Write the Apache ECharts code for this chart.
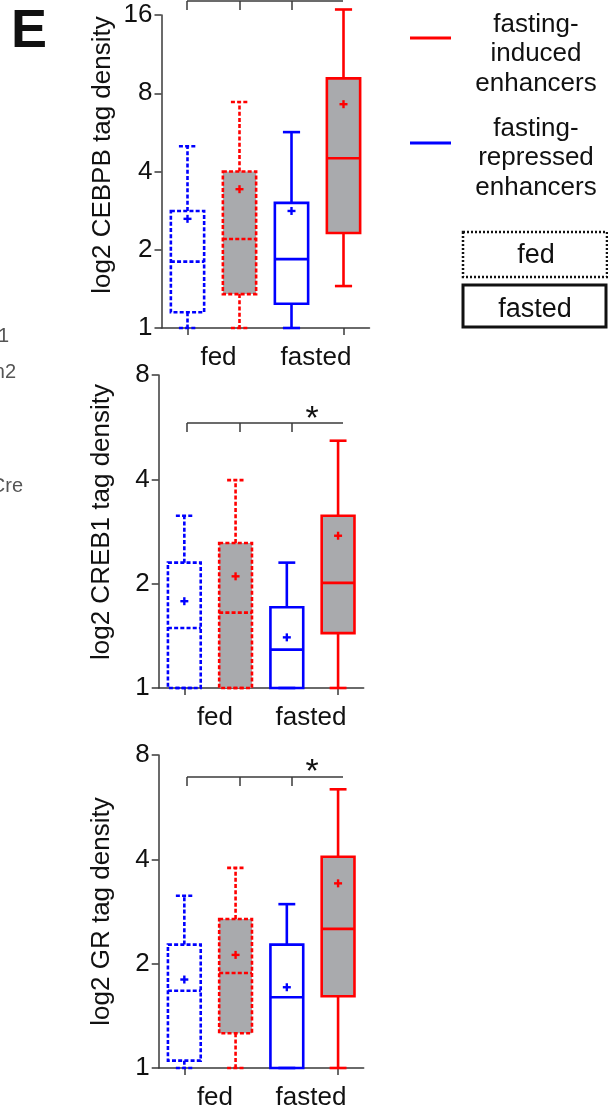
<!DOCTYPE html>
<html>
<head>
<meta charset="utf-8">
<script src="https://cdn.jsdelivr.net/npm/echarts@6/dist/echarts.min.js"></script>
<style>
html,body{margin:0;padding:0;background:#fff;}
#chart{width:608px;height:1114px;}
</style>
</head>
<body>
<div id="chart"></div>
<script>
// ---- data ----
const boxKeys = ['fed / repressed', 'fed / induced', 'fasted / repressed', 'fasted / induced'];
const groupLabels = ['fed', 'fasted'];
const panelTitles = ['log2 CEBPB tag density', 'log2 CREB1 tag density', 'log2 GR tag density'];
const yMax = [16, 8, 8];

// CEBPB
const cebpbLow    = [1.00, 1.00, 1.00, 1.45];
const cebpbQ1     = [1.15, 1.35, 1.24, 2.32];
const cebpbMedian = [1.80, 2.20, 1.84, 4.50];
const cebpbQ3     = [2.82, 4.00, 3.03, 9.13];
const cebpbHigh   = [5.00, 7.40, 5.67, 16.8];
const cebpbMean   = [2.63, 3.42, 2.82, 7.26];

// CREB1
const creb1Low    = [1.00, 1.00, 1.00, 1.00];
const creb1Q1     = [1.00, 1.00, 1.00, 1.44];
const creb1Median = [1.49, 1.65, 1.29, 2.01];
const creb1Q3     = [2.30, 2.62, 1.71, 3.14];
const creb1High   = [3.14, 3.98, 2.30, 5.17];
const creb1Mean   = [1.78, 2.10, 1.40, 2.75];

// GR
const grLow    = [1.00, 1.00, 1.00, 1.00];
const grQ1     = [1.05, 1.26, 1.00, 1.61];
const grMedian = [1.67, 1.88, 1.60, 2.52];
const grQ3     = [2.27, 2.69, 2.27, 4.07];
const grHigh   = [3.14, 3.78, 2.97, 6.37];
const grMean   = [1.80, 2.12, 1.71, 3.41];

const panels = [
  [cebpbLow, cebpbQ1, cebpbMedian, cebpbQ3, cebpbHigh, cebpbMean],
  [creb1Low, creb1Q1, creb1Median, creb1Q3, creb1High, creb1Mean],
  [grLow, grQ1, grMedian, grQ3, grHigh, grMean]
];

// ---- styling / layout ----
const FONT = "'Liberation Sans', Arial, Helvetica, sans-serif";
const BLUE = '#0000ff', RED = '#ff0000', GRAY = '#a9aaad', AXIS = '#3a3a3a', TXT = '#111';
const DASH = [4, 2.2];
const boxStyles = [
  {color: BLUE, dash: true,  fill: null},
  {color: RED,  dash: true,  fill: GRAY},
  {color: BLUE, dash: false, fill: null},
  {color: RED,  dash: false, fill: GRAY}
];
const grids = [
  {left: 161.5, top: 15,  width: 208, height: 313},
  {left: 158.7, top: 375, width: 205, height: 313},
  {left: 158.7, top: 755, width: 205, height: 313}
];
const titleCenters = [[103, 155], [102, 522], [102, 911.5]];

function renderBox(params, api) {
  const i = api.value(0);
  const st = boxStyles[i];
  const x = api.coord([i, 1])[0];
  const band = api.coord([1, 1])[0] - api.coord([0, 1])[0];
  const hw = band * 0.32, cw = band * 0.165;
  const yLo = api.coord([i, api.value(1)])[1];
  const yQ1 = api.coord([i, api.value(2)])[1];
  const yMed = api.coord([i, api.value(3)])[1];
  const yQ3 = api.coord([i, api.value(4)])[1];
  const yHi = api.coord([i, api.value(5)])[1];
  const yMean = api.coord([i, api.value(6)])[1];
  const ls = {stroke: st.color, lineWidth: 2.6, fill: null, lineDash: st.dash ? DASH : null};
  const line = (x1, y1, x2, y2, s) => ({type: 'line', shape: {x1, y1, x2, y2}, style: Object.assign({}, s || ls)});
  const ms = {stroke: st.color, lineWidth: 2.4, fill: null};
  return {
    type: 'group',
    children: [
      {type: 'rect', shape: {x: x - hw, y: yQ3, width: 2 * hw, height: yQ1 - yQ3},
       style: {fill: st.fill || 'rgba(0,0,0,0)', stroke: st.color, lineWidth: 2.6, lineDash: st.dash ? DASH : null}},
      line(x, yQ3, x, yHi),
      line(x, yQ1, x, yLo),
      line(x - cw, yHi, x + cw, yHi),
      line(x - cw, yLo, x + cw, yLo),
      line(x - hw, yMed, x + hw, yMed),
      line(x - 4, yMean, x + 4, yMean, ms),
      line(x, yMean - 4, x, yMean + 4, ms)
    ]
  };
}

const option = {
  animation: false,
  backgroundColor: '#fff',
  textStyle: {fontFamily: FONT},
  grid: grids.map(g => Object.assign({containLabel: false}, g)),
  xAxis: [],
  yAxis: [],
  series: [],
  graphic: []
};

panels.forEach((p, k) => {
  option.xAxis.push({
    type: 'category', gridIndex: k, data: boxKeys, position: 'bottom', boundaryGap: true,
    axisLine: {show: true, lineStyle: {color: AXIS, width: 1.5}},
    axisTick: {show: true, alignWithLabel: true, length: 7, lineStyle: {color: AXIS, width: 1.5}},
    axisLabel: {show: false}, splitLine: {show: false}
  });
  option.xAxis.push({
    type: 'category', gridIndex: k, data: groupLabels, position: 'bottom', boundaryGap: true,
    axisLine: {show: false}, axisTick: {show: false}, splitLine: {show: false},
    axisLabel: {
      show: true, interval: 0, margin: 17, fontSize: 26, color: TXT, fontFamily: FONT,
      formatter: v => v === 'fed' ? '{a|' + v + '}' : '{b|' + v + '}',
      rich: {
        a: {fontSize: 26, color: TXT, fontFamily: FONT, padding: [0, 0, 0, 10]},
        b: {fontSize: 26, color: TXT, fontFamily: FONT, padding: [0, 3, 0, 0]}
      }
    }
  });
  option.yAxis.push({
    type: 'log', logBase: 2, gridIndex: k, min: 1, max: yMax[k],
    axisLine: {show: true, lineStyle: {color: AXIS, width: 1.5}},
    axisTick: {show: true, length: 7, lineStyle: {color: AXIS, width: 1.5}},
    axisLabel: {fontSize: 26, color: TXT, margin: 9, fontFamily: FONT,
                formatter: v => String(Math.round(v))},
    splitLine: {show: false}, minorTick: {show: false}
  });
  const data = boxKeys.map((_, i) => [i, p[0][i], p[1][i], p[2][i], p[3][i], p[4][i], p[5][i]]);
  option.series.push({
    type: 'custom', name: panelTitles[k], xAxisIndex: 2 * k, yAxisIndex: k,
    renderItem: renderBox, data: data, clip: false, z: 5,
    encode: {x: 0, y: [1, 2, 3, 4, 5, 6]}
  });
  option.graphic.push({
    type: 'text', x: titleCenters[k][0], y: titleCenters[k][1], rotation: Math.PI / 2,
    style: {text: panelTitles[k], fontSize: 26, fontFamily: FONT, fill: TXT, align: 'center', verticalAlign: 'middle'}
  });
});

// significance brackets (annotations)
const bracketY = [1, 423, 777];
const bracketAst = [null, 420, 773];
bracketY.forEach((by, k) => {
  const s = {stroke: AXIS, lineWidth: 1.5};
  option.graphic.push({type: 'line', shape: {x1: 187, y1: by, x2: 343, y2: by}, style: s});
  [187, 240, 292].forEach(tx => option.graphic.push({type: 'line', shape: {x1: tx, y1: by, x2: tx, y2: by + 9}, style: s}));
  if (bracketAst[k] !== null) {
    option.graphic.push({type: 'text', x: 312, y: bracketAst[k],
      style: {text: '*', fontSize: 34, fontFamily: FONT, fill: TXT, align: 'center', verticalAlign: 'middle'}});
  }
});

// panel letter and cropped neighbour text
option.graphic.push({type: 'text', x: 11, y: 32,
  style: {text: 'E', fontSize: 54, fontWeight: 'bold', fontFamily: FONT, fill: '#111', align: 'left', verticalAlign: 'middle'}});
[['1', 9, 336], ['n2', 16, 372], ['Cre', 23, 486]].forEach(t => option.graphic.push({type: 'text', x: t[1], y: t[2],
  style: {text: t[0], fontSize: 20, fontFamily: FONT, fill: '#555', align: 'right', verticalAlign: 'middle'}}));

// legend
option.graphic.push(
  {type: 'line', shape: {x1: 410, y1: 38, x2: 451, y2: 38}, style: {stroke: RED, lineWidth: 3}},
  {type: 'text', x: 536, y: 54, style: {text: 'fasting-\ninduced\nenhancers', fontSize: 26, lineHeight: 29.5, fontFamily: FONT, fill: TXT, align: 'center', verticalAlign: 'middle'}},
  {type: 'line', shape: {x1: 410, y1: 143, x2: 451, y2: 143}, style: {stroke: BLUE, lineWidth: 3}},
  {type: 'text', x: 536, y: 158, style: {text: 'fasting-\nrepressed\nenhancers', fontSize: 26, lineHeight: 29.5, fontFamily: FONT, fill: TXT, align: 'center', verticalAlign: 'middle'}},
  {type: 'rect', shape: {x: 463, y: 232, width: 144, height: 45}, style: {fill: 'none', stroke: '#111', lineWidth: 2.5, lineDash: [2, 2]}},
  {type: 'text', x: 536, y: 256, style: {text: 'fed', fontSize: 27, fontFamily: FONT, fill: TXT, align: 'center', verticalAlign: 'middle'}},
  {type: 'rect', shape: {x: 463, y: 285, width: 143, height: 42}, style: {fill: 'none', stroke: '#111', lineWidth: 3}},
  {type: 'text', x: 535, y: 310, style: {text: 'fasted', fontSize: 27, fontFamily: FONT, fill: TXT, align: 'center', verticalAlign: 'middle'}}
);

const chart = echarts.init(document.getElementById('chart'), null, {renderer: 'canvas'});
chart.setOption(option);
</script>
</body>
</html>
